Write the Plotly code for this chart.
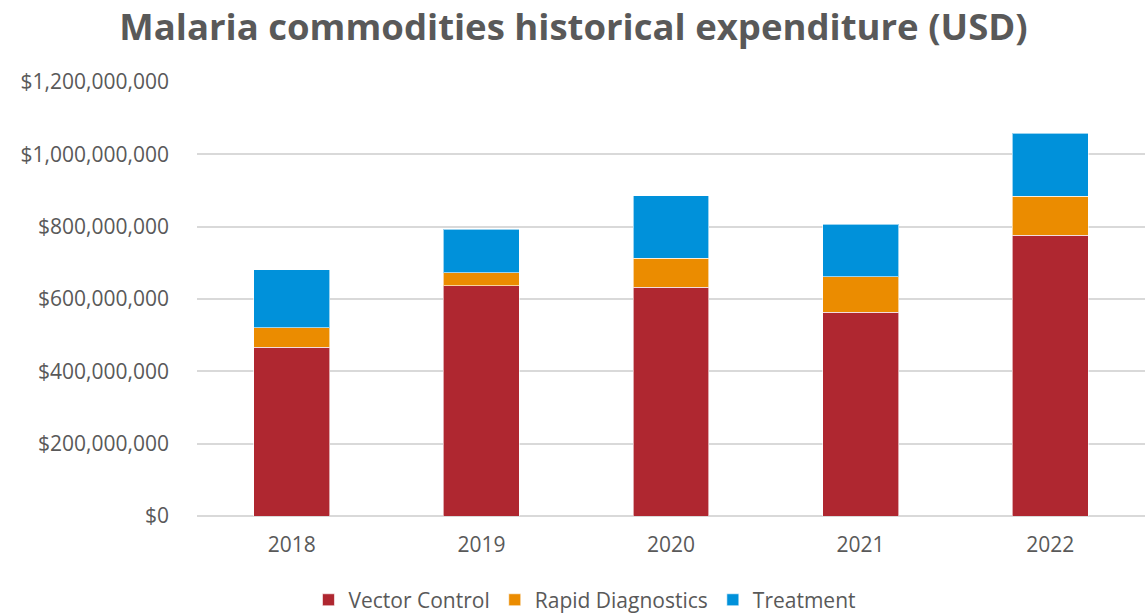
import plotly.graph_objects as go

years = ["2018", "2019", "2020", "2021", "2022"]
vector_control = [467e6, 637e6, 632e6, 564e6, 776e6]
rapid_diagnostics = [54e6, 36e6, 80e6, 97e6, 108e6]
treatment = [160e6, 120e6, 173e6, 146e6, 174e6]

series = [
    ("Vector Control", vector_control, "#AF2730"),
    ("Rapid Diagnostics", rapid_diagnostics, "#EB8C00"),
    ("Treatment", treatment, "#0091DA"),
]

fig = go.Figure()
for name, vals, color in series:
    fig.add_trace(go.Bar(
        x=years, y=vals, name=name,
        marker=dict(color=color, line=dict(color="rgba(255,255,255,0.6)", width=1)),
    ))

font_fam = "Open Sans, Liberation Sans, sans-serif"
fs = 21
fig.update_layout(
    barmode="stack",
    bargap=0.6,
    width=1147, height=613,
    margin=dict(l=197, r=2, t=82, b=97, autoexpand=False),
    plot_bgcolor="white", paper_bgcolor="white",
    font=dict(family=font_fam, color="#595959", size=fs),
    title=dict(text="<b>Malaria commodities historical expenditure (USD)</b>",
               x=0.5, xanchor="center", y=0.955, yanchor="middle",
               font=dict(size=36.5, color="#595959", family=font_fam)),
    legend=dict(orientation="h", x=0.51, xanchor="center", xref="container",
                y=0.021, yanchor="middle", yref="container",
                font=dict(size=fs, color="#595959"), traceorder="normal",
                itemwidth=30),
    xaxis=dict(showgrid=False, showline=False, ticks="", ticklabelstandoff=14,
               automargin=False, tickfont=dict(size=fs, color="#595959")),
    yaxis=dict(range=[0, 1.2e9], dtick=2e8, showgrid=True, gridcolor="#D9D9D9", gridwidth=1.5,
               zeroline=True, zerolinecolor="#D9D9D9", zerolinewidth=1.5, automargin=False,
               tickprefix="$", tickformat=",.0f", ticklabelstandoff=27,
               tickfont=dict(size=fs, color="#595959")),
)

fig.write_html("out.html", config={"displayModeBar": False},
               post_script="document.body.style.margin='0';document.body.style.overflow='hidden';")
